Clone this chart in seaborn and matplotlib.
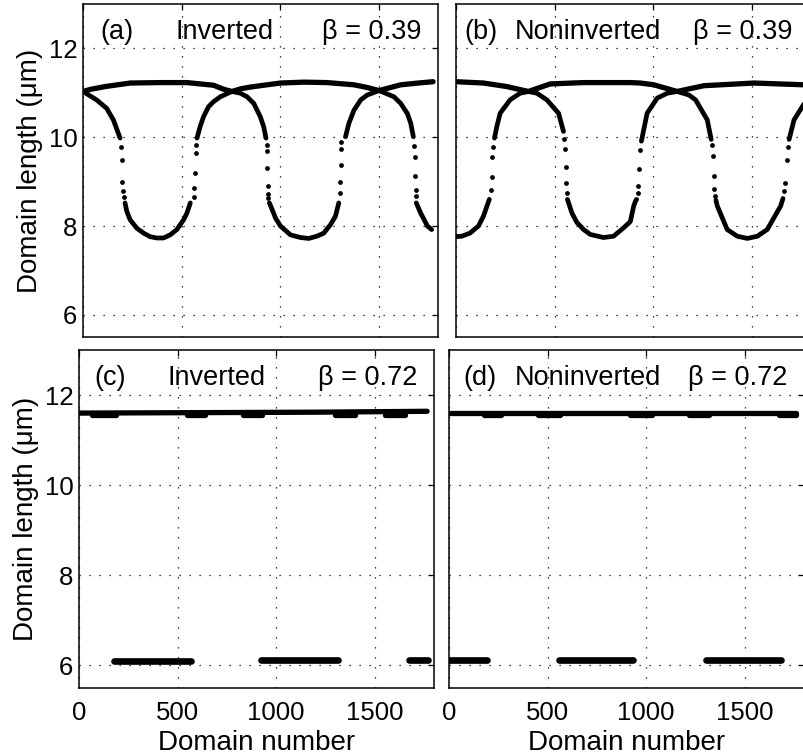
import numpy as np
import pandas as pd
import matplotlib
matplotlib.use("Agg")
import matplotlib.pyplot as plt
import seaborn as sns

# ---------------- data ----------------
# Panel (a) inverted, beta = 0.39
a_upper_x = [0, 40, 112, 239, 390, 527, 662, 713, 755, 800, 850, 933, 1001, 1120, 1238, 1374, 1440, 1501, 1560, 1611, 1700, 1775]
a_upper_y = [11.03, 11.08, 11.14, 11.22, 11.23, 11.23, 11.17, 11.08, 11.03, 11.09, 11.13, 11.18, 11.22, 11.24, 11.23, 11.18, 11.12, 11.05, 11.12, 11.18, 11.22, 11.25]
a_loop_x = [0, 69, 120, 154, 188,
            213, 222, 239, 273, 307, 340, 374, 408, 442, 476, 510, 527, 544,
            578, 594, 611, 637, 662, 696, 755, 798, 832, 866, 899, 916, 928,
            945, 959, 976, 1001, 1052, 1103, 1145, 1186, 1221, 1255, 1280, 1297,
            1331, 1348, 1374, 1408, 1441, 1501, 1577, 1611, 1645, 1662, 1675,
            1690, 1712, 1729, 1746, 1768]
a_loop_y = [11.03, 10.84, 10.65, 10.39, 9.98,
            8.52, 8.33, 8.14, 7.95, 7.84, 7.76, 7.73, 7.73, 7.80, 7.92, 8.14, 8.29, 8.52,
            9.98, 10.24, 10.46, 10.69, 10.80, 10.91, 11.03, 10.99, 10.91, 10.76, 10.46, 10.24, 9.98,
            8.52, 8.37, 8.18, 8.00, 7.80, 7.74, 7.72, 7.77, 7.84, 8.03, 8.22, 8.52,
            10.01, 10.31, 10.61, 10.84, 10.95, 11.05, 10.91, 10.76, 10.53, 10.31, 10.01,
            8.52, 8.29, 8.15, 8.00, 7.92]
a_loop_seg = [0] * 5 + [1] * 13 + [2] * 13 + [3] * 12 + [4] * 11 + [5] * 5
a_dots_x = [193, 197, 200, 203, 206, 561, 564, 567, 571, 573,
            931, 932, 934, 936, 938, 940, 1302, 1304, 1306, 1308, 1310,
            1680, 1682, 1684, 1686, 1688]
a_dots_y = [9.78, 9.49, 8.98, 8.79, 8.66, 8.66, 8.85, 9.19, 9.64, 9.83,
            9.83, 9.70, 9.31, 8.90, 8.71, 8.64, 8.74, 9.00, 9.38, 9.73, 9.90,
            9.81, 9.55, 9.12, 8.82, 8.67]

# Panel (b) noninverted, beta = 0.39
b_upper_x = [0, 139, 258, 367, 478, 647, 884, 935, 1003, 1121, 1257, 1511, 1765, 1800]
b_upper_y = [11.25, 11.22, 11.14, 11.03, 11.20, 11.23, 11.23, 11.22, 11.18, 11.03, 11.16, 11.22, 11.18, 11.18]
b_loop_x = [0, 29, 71, 114, 139, 169,
            195, 207, 224, 274, 325, 367, 410, 461, 520, 545,
            565, 588, 613, 647, 681, 748, 799, 850, 884, 901, 911,
            940, 969, 1020, 1071, 1121, 1181, 1215, 1274, 1294,
            1318, 1325, 1375, 1426, 1477, 1528, 1578, 1646, 1658,
            1689, 1714, 1756, 1780]
b_loop_y = [7.76, 7.77, 7.84, 8.00, 8.22, 8.60,
            9.98, 10.24, 10.54, 10.84, 10.99, 11.03, 10.99, 10.84, 10.54, 10.13,
            8.60, 8.29, 8.08, 7.92, 7.81, 7.74, 7.77, 7.96, 8.10, 8.45, 8.57,
            9.91, 10.54, 10.88, 10.99, 11.03, 10.95, 10.84, 10.39, 9.95,
            8.58, 8.45, 7.92, 7.77, 7.72, 7.77, 7.92, 8.45, 8.62,
            9.95, 10.39, 10.69, 10.85]
b_loop_seg = [0] * 6 + [1] * 10 + [2] * 11 + [3] * 9 + [4] * 9 + [5] * 4
b_dots_x = [176, 181, 185, 190, 549, 554, 556, 559, 562,
            915, 921, 925, 930, 935, 1299, 1301, 1306, 1308, 1311,
            1663, 1668, 1677, 1684]
b_dots_y = [8.81, 9.10, 9.55, 9.77, 9.95, 9.74, 9.34, 8.96, 8.75,
            8.60, 8.75, 8.90, 9.29, 9.71, 9.83, 9.57, 9.12, 8.84, 8.67,
            8.79, 8.97, 9.48, 9.77]

# Panel (c) inverted, beta = 0.72
c_top_x = [0, 600, 1200, 1765]
c_top_y = [11.60, 11.61, 11.62, 11.64]
c_bump_start = [64, 546, 834, 1299, 1553]
c_bump_end = [190, 639, 927, 1400, 1655]
c_bump_y = 11.55
c_low_start = [180, 923, 1672]
c_low_end = [567, 1312, 1770]
c_low_y = [6.11, 6.12, 6.12]

# Panel (d) noninverted, beta = 0.72
d_top_x = [0, 900, 1760]
d_top_y = [11.60, 11.60, 11.60]
d_bump_start = [180, 453, 917, 1215, 1672]
d_bump_end = [266, 563, 1029, 1317, 1757]
d_bump_y = 11.55
d_low_start = [0, 558, 1304]
d_low_end = [195, 935, 1685]
d_low_y = [6.13, 6.13, 6.13]

x_ticks = [0, 500, 1000, 1500]
y_ticks = [6, 8, 10, 12]
panel_labels = ["(a)", "(b)", "(c)", "(d)"]
panel_kinds = ["Inverted", "Noninverted", "Inverted", "Noninverted"]
panel_betas = ["\u03b2 = 0.39", "\u03b2 = 0.39", "\u03b2 = 0.72", "\u03b2 = 0.72"]

# ---------------- style ----------------
sns.set_theme(style="white")
plt.rcParams["font.family"] = ["Liberation Sans", "DejaVu Sans"]
plt.rcParams["axes.edgecolor"] = "black"
plt.rcParams["text.color"] = "black"
plt.rcParams["axes.labelcolor"] = "black"
plt.rcParams["xtick.color"] = "black"
plt.rcParams["ytick.color"] = "black"

W, H = 804, 755
fig = plt.figure(figsize=(W / 100, H / 100), dpi=100)
fig.patch.set_facecolor("white")


def make_ax(l, r, t, b):
    return fig.add_axes([l / W, 1 - b / H, (r - l) / W, (b - t) / H])


axa = make_ax(83, 438, 4, 337)
axb = make_ax(456, 811, 4, 337)
axc = make_ax(79, 434, 350, 688)
axd = make_ax(449, 804, 350, 688)
axes = [axa, axb, axc, axd]

LW = 3.4


def draw_lines(ax, xs, ys, seg, lw):
    df = pd.DataFrame({"x": xs, "y": ys, "seg": seg})
    sns.lineplot(data=df, x="x", y="y", units="seg", estimator=None, sort=False,
                 color="black", lw=lw, ax=ax, legend=False,
                 solid_capstyle="round", solid_joinstyle="round")


def draw_dots(ax, xs, ys):
    sns.scatterplot(x=xs, y=ys, color="black", s=12, linewidth=0, ax=ax, legend=False)


def segs_from_pairs(starts, ends, yv):
    xs, ys, sg = [], [], []
    yl = yv if isinstance(yv, list) else [yv] * len(starts)
    for i, (s, e) in enumerate(zip(starts, ends)):
        xs += [s, e]
        ys += [yl[i], yl[i]]
        sg += [i, i]
    return xs, ys, sg


# (a)
draw_lines(axa, a_upper_x, a_upper_y, [0] * len(a_upper_x), LW + 0.4)
draw_lines(axa, a_loop_x, a_loop_y, a_loop_seg, LW)
draw_dots(axa, a_dots_x, a_dots_y)
# (b)
draw_lines(axb, b_upper_x, b_upper_y, [0] * len(b_upper_x), LW + 0.4)
draw_lines(axb, b_loop_x, b_loop_y, b_loop_seg, LW)
draw_dots(axb, b_dots_x, b_dots_y)
# (c)
draw_lines(axc, c_top_x, c_top_y, [0] * len(c_top_x), 3.8)
xs, ys, sg = segs_from_pairs(c_bump_start, c_bump_end, c_bump_y)
draw_lines(axc, xs, ys, sg, 3.8)
xs, ys, sg = segs_from_pairs(c_low_start, c_low_end, c_low_y)
draw_lines(axc, xs, ys, sg, 4.8)
# (d)
draw_lines(axd, d_top_x, d_top_y, [0] * len(d_top_x), 3.8)
xs, ys, sg = segs_from_pairs(d_bump_start, d_bump_end, d_bump_y)
draw_lines(axd, xs, ys, sg, 3.8)
xs, ys, sg = segs_from_pairs(d_low_start, d_low_end, d_low_y)
draw_lines(axd, xs, ys, sg, 4.8)

text_x = {
    0: (86, 467, 1213),
    1: (45, 299, 1200),
    2: (76, 449, 1211),
    3: (71, 335, 1211),
}

for i, ax in enumerate(axes):
    ax.set_xlim(0, 1800)
    ax.set_ylim(5.5, 13)
    ax.set_xticks(x_ticks)
    ax.set_yticks(y_ticks)
    ax.set_axisbelow(True)
    ax.grid(True, color="black", linestyle=(0, (1, 7)), linewidth=0.9)
    for sp in ax.spines.values():
        sp.set_visible(True)
        sp.set_color("black")
        sp.set_linewidth(1.1)
    ax.tick_params(direction="in", length=4, width=0.9, top=True, right=True,
                   labelsize=18.5, pad=4)
    ax.tick_params(axis="x", pad=9)
    ax.set_xlabel("")
    ax.set_ylabel("")
    tx = text_x[i]
    ax.text(tx[0], 12.22, panel_labels[i], fontsize=19.5, ha="left", va="baseline")
    ax.text(tx[1], 12.22, panel_kinds[i], fontsize=19.5, ha="left", va="baseline")
    ax.text(tx[2], 12.22, panel_betas[i], fontsize=19.5, ha="left", va="baseline")

for ax in (axa, axb):
    ax.tick_params(labelbottom=False)
for ax in (axb, axd):
    ax.tick_params(labelleft=False)
for ax in (axa, axc):
    ax.set_ylabel("Domain length (\u03bcm)", fontsize=20, labelpad=4)
for ax in (axc, axd):
    ax.set_xlabel("Domain number", fontsize=20, labelpad=4)

fig.savefig("out.png", dpi=100, facecolor="white")
